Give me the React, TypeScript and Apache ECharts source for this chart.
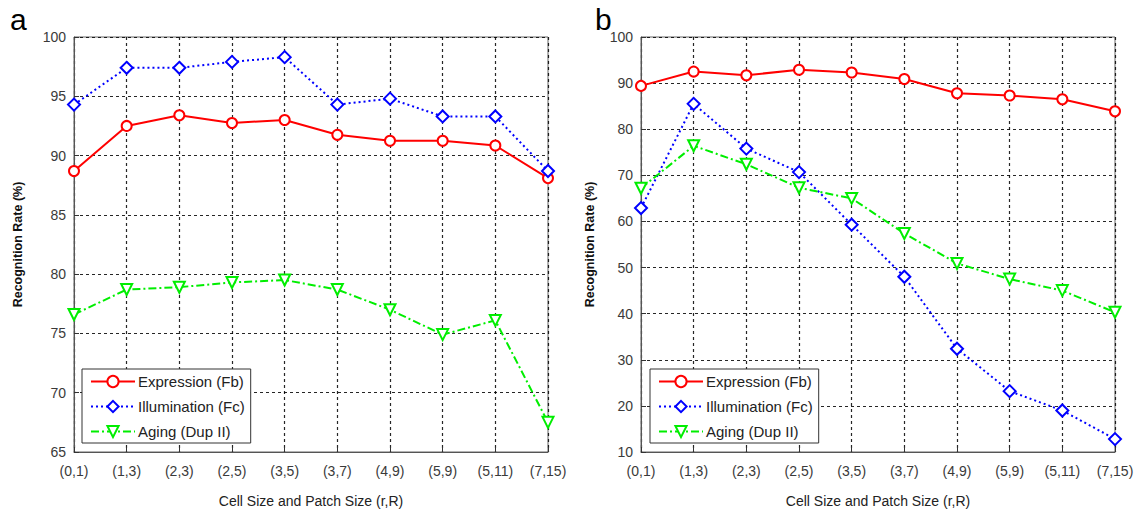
import React, { useEffect, useRef } from "react";
import * as echarts from "echarts";

const categories = ["(0,1)", "(1,3)", "(2,3)", "(2,5)", "(3,5)", "(3,7)", "(4,9)", "(5,9)", "(5,11)", "(7,15)"];
const seriesNames = ["Expression (Fb)", "Illumination (Fc)", "Aging (Dup II)"];

const aExpression = [88.7, 92.5, 93.4, 92.75, 93.0, 91.75, 91.25, 91.25, 90.85, 88.1];
const aIllumination = [94.3, 97.4, 97.4, 97.9, 98.3, 94.3, 94.8, 93.3, 93.3, 88.7];
const aAging = [76.6, 78.7, 78.9, 79.3, 79.5, 78.7, 77.0, 74.9, 76.1, 67.5];

const bExpression = [89.4, 92.5, 91.7, 92.9, 92.3, 90.9, 87.8, 87.3, 86.5, 83.9];
const bIllumination = [62.9, 85.5, 75.8, 70.7, 59.3, 48.0, 32.4, 23.2, 19.0, 12.8];
const bAging = [67.2, 76.4, 72.4, 67.3, 65.0, 57.4, 50.9, 47.5, 45.0, 40.3];

const aTicks = { min: 65, max: 100, interval: 5 };
const bTicks = { min: 10, max: 100, interval: 10 };

export default function App() {
  const ref = useRef<HTMLDivElement>(null);
  useEffect(() => {
    if (!ref.current) return;
    const chart = echarts.init(ref.current, null, { renderer: "svg" });
    const font = "Liberation Sans, Arial, sans-serif";
    const grids = [
      { left: 74, top: 37, width: 474, height: 419 },
      { left: 641, top: 37, width: 474, height: 419 },
    ];
    const gridLine = { show: true, lineStyle: { color: "#000", type: [3, 3] as any, width: 1.2, opacity: 0.85 } };
    const mkX = (i: number) => ({
      type: "category",
      gridIndex: i,
      data: categories,
      boundaryGap: false,
      axisLine: { lineStyle: { color: "#555", width: 1 } },
      axisTick: { inside: true, length: 5, lineStyle: { color: "#333" } },
      axisLabel: { color: "#3a3a3a", fontSize: 14, fontFamily: font, margin: 12 },
      splitLine: gridLine,
      name: "Cell Size and Patch Size (r,R)",
      nameLocation: "middle",
      nameGap: 42,
      nameTextStyle: { color: "#222", fontSize: 14, fontFamily: font },
    });
    const mkY = (i: number, t: any, gap: number) => ({
      type: "value",
      gridIndex: i,
      min: t.min,
      max: t.max,
      interval: t.interval,
      axisLine: { show: true, lineStyle: { color: "#555", width: 1 } },
      axisTick: { show: true, inside: true, length: 5, lineStyle: { color: "#333" } },
      axisLabel: { color: "#3a3a3a", fontSize: 14, fontFamily: font, margin: 8 },
      splitLine: gridLine,
      name: "Recognition Rate (%)",
      nameLocation: "middle",
      nameGap: gap,
      nameTextStyle: { color: "#111", fontSize: 12.5, fontWeight: "bold", fontFamily: font },
    });
    const mkSeries = (name: string, data: number[], idx: number, kind: number) => {
      const styles = [
        { color: "#ff0000", symbol: "emptyCircle", size: 10, type: "solid", rotate: 0 },
        { color: "#0000ff", symbol: "emptyDiamond", size: 12, type: [2, 3], rotate: 0 },
        { color: "#00ee00", symbol: "emptyTriangle", size: 11, type: [8, 3, 2, 3], rotate: 180 },
      ][kind];
      return {
        type: "line",
        name,
        xAxisIndex: idx,
        yAxisIndex: idx,
        data,
        symbol: styles.symbol,
        symbolSize: styles.size,
        symbolRotate: styles.rotate,
        itemStyle: { color: styles.color, borderWidth: 1.5 },
        lineStyle: { color: styles.color, width: 2, type: styles.type as any },
      };
    };
    const mkLegend = (left: number) => ({
      show: true,
      left,
      top: 369,
      orient: "vertical",
      backgroundColor: "#fff",
      borderColor: "#333",
      borderWidth: 1,
      borderRadius: 0,
      padding: [5, 6, 4, 8],
      itemGap: 10,
      itemWidth: 44,
      itemHeight: 14,
      textStyle: { color: "#222", fontSize: 15, fontFamily: font, padding: [0, 0, 0, -2] },
      data: seriesNames,
      selectedMode: false,
    });
    chart.setOption({
      animation: false,
      backgroundColor: "#fff",
      grid: grids.map((g) => ({ ...g, show: true, borderColor: "#666", borderWidth: 1, backgroundColor: "transparent" })),
      xAxis: [mkX(0), mkX(1)],
      yAxis: [mkY(0, aTicks, 50), mkY(1, bTicks, 45)],
      legend: [mkLegend(82), mkLegend(650)],
      series: [
        mkSeries(seriesNames[0], aExpression, 0, 0),
        mkSeries(seriesNames[1], aIllumination, 0, 1),
        mkSeries(seriesNames[2], aAging, 0, 2),
        mkSeries(seriesNames[0], bExpression, 1, 0),
        mkSeries(seriesNames[1], bIllumination, 1, 1),
        mkSeries(seriesNames[2], bAging, 1, 2),
      ],
      graphic: [
        { type: "text", left: 10, top: 4, style: { text: "a", fontSize: 30, fontFamily: font, fill: "#000" } },
        { type: "text", left: 595, top: 4, style: { text: "b", fontSize: 30, fontFamily: font, fill: "#000" } },
      ],
    });
    return () => chart.dispose();
  }, []);
  return <div ref={ref} style={{ width: 1137, height: 513, position: "absolute", left: 0, top: 0 }} />;
}
